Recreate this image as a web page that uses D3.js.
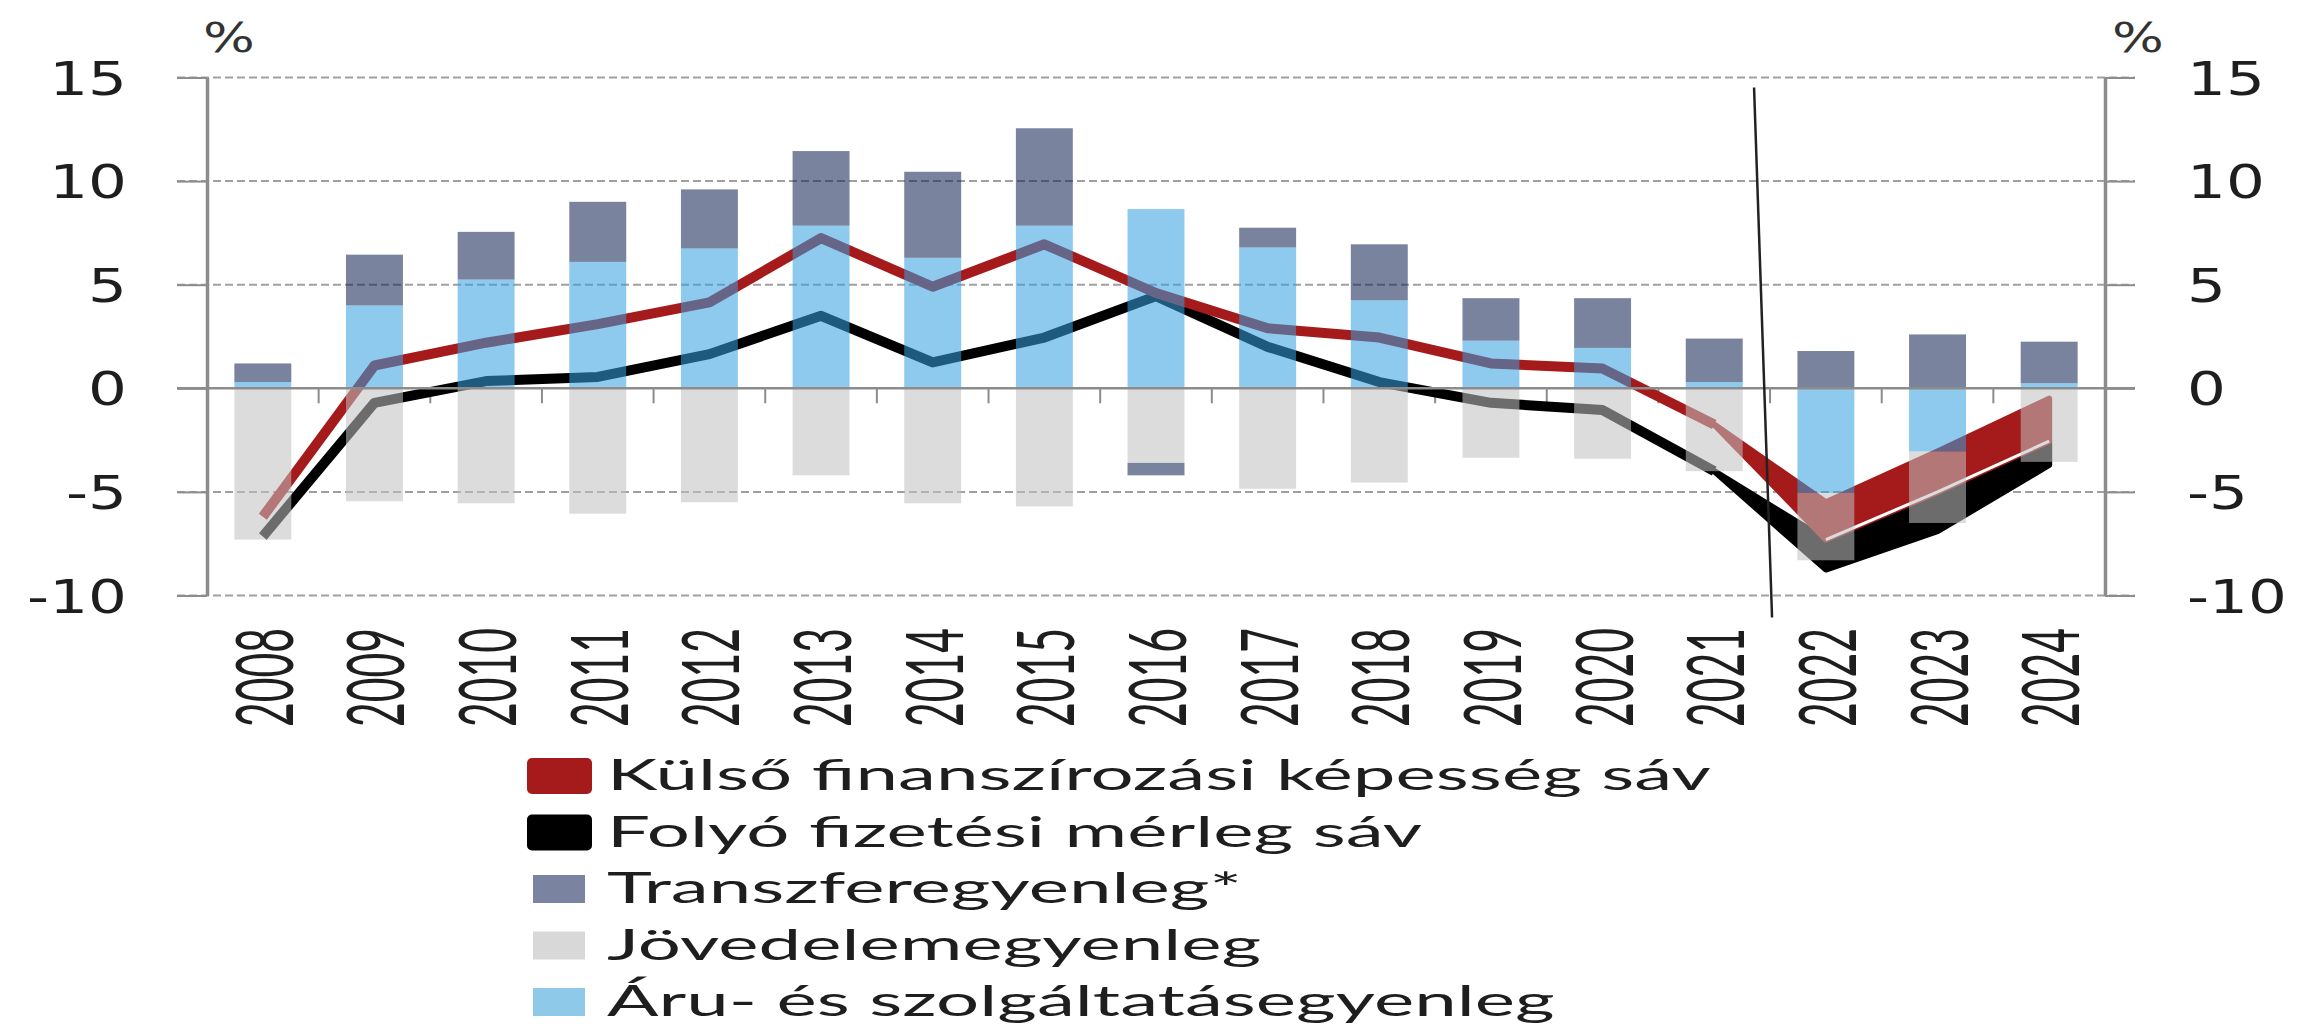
<!DOCTYPE html>
<html>
<head>
<meta charset="utf-8">
<script src="https://cdn.jsdelivr.net/npm/d3@7"></script>
<style>
  body { margin: 0; background: #fff; }
  #chart-area { width: 2297px; height: 1024px; }
</style>
</head>
<body>
<div id="chart-area"></div>
<script>
// ---- data (% of GDP) ----
const years = [2008, 2009, 2010, 2011, 2012, 2013, 2014, 2015, 2016, 2017, 2018, 2019, 2020, 2021, 2022, 2023, 2024];
const goodsServices = [0.3, 4.0, 5.25, 6.1, 6.75, 7.85, 6.3, 7.85, 8.65, 6.8, 4.25, 2.3, 1.95, 0.3, -5.05, -3.05, 0.25];
const incomeBalance = [-7.3, -5.45, -5.55, -6.05, -5.5, -4.2, -5.55, -5.7, -3.6, -4.85, -4.55, -3.35, -3.4, -4.0, -3.25, -3.45, -3.55];
const transferBalance = [0.9, 2.45, 2.3, 2.9, 2.85, 3.6, 4.15, 4.7, -0.6, 0.95, 2.7, 2.05, 2.4, 2.1, 1.8, 2.6, 2.0];

const lineYears = [2008, 2009, 2010, 2011, 2012, 2013, 2014, 2015, 2016, 2017, 2018, 2019, 2020, 2021];
const financingCapacity = [-6.2, 1.1, 2.2, 3.1, 4.15, 7.25, 4.9, 6.95, 4.6, 2.9, 2.45, 1.2, 0.95, -1.75];
const currentAccount = [-7.15, -0.7, 0.35, 0.55, 1.65, 3.5, 1.25, 2.45, 4.45, 2.0, 0.3, -0.7, -1.05, -4.0];

const bandYears = [2021, 2022, 2023, 2024];
const financingBandUpper = [-1.75, -5.5, -3.05, -0.5];
const financingBandLower = [-1.75, -7.3, -5.0, -2.55];
const currentBandUpper = [-4.0, -7.3, -5.0, -2.55];
const currentBandLower = [-4.0, -8.75, -6.9, -3.7];

const yTicks = [-10, -5, 0, 5, 10, 15];
const forecastStart = 2022;

const legendLabels = [
  "Külső finanszírozási képesség sáv",
  "Folyó fizetési mérleg sáv",
  "Transzferegyenleg*",
  "Jövedelemegyenleg",
  "Áru- és szolgáltatásegyenleg"
];

/* * * * * * * * * * * * * *
 *       BalanceChart       *
 * * * * * * * * * * * * * */

class BalanceChart {
  constructor(parentElement) {
    this.parentElement = parentElement;
    this.initVis();
  }

  initVis() {
    let vis = this;

    vis.margin = { top: 77.5, right: 192, bottom: 428.5, left: 207 };
    vis.width = 2297 - vis.margin.left - vis.margin.right;
    vis.height = 1024 - vis.margin.top - vis.margin.bottom;

    vis.root = d3.select("#" + vis.parentElement)
      .append("svg")
      .attr("width", 2297)
      .attr("height", 1024);

    vis.svg = vis.root.append("g")
      .attr("transform", `translate(${vis.margin.left}, ${vis.margin.top})`);

    // scales
    vis.x = d3.scaleBand().domain(years).range([0, vis.width]).paddingInner(0.49).paddingOuter(0.245);
    vis.y = d3.scaleLinear().domain([-10, 15]).range([vis.height, 0]);

    vis.colors = {
      red: "#a51a1a",
      black: "#000000",
      transfer: "#122252",
      income: "#c1c1c1",
      goods: "#36a1df"
    };
    vis.barOpacity = 0.56;

    vis.wrangleData();
  }

  wrangleData() {
    let vis = this;

    vis.rows = years.map((yr, i) => ({
      year: yr,
      goods: goodsServices[i],
      income: incomeBalance[i],
      transfer: transferBalance[i]
    }));

    vis.stacked = d3.stack()
      .keys(["goods", "income", "transfer"])
      .offset(d3.stackOffsetDiverging)(vis.rows);

    vis.redLine = lineYears.map((yr, i) => ({ year: yr, value: financingCapacity[i] }));
    vis.blackLine = lineYears.map((yr, i) => ({ year: yr, value: currentAccount[i] }));
    vis.redBand = bandYears.map((yr, i) => ({ year: yr, hi: financingBandUpper[i], lo: financingBandLower[i] }));
    vis.blackBand = bandYears.map((yr, i) => ({ year: yr, hi: currentBandUpper[i], lo: currentBandLower[i] }));

    vis.updateVis();
  }

  updateVis() {
    let vis = this;
    let cx = (yr) => vis.x(yr) + vis.x.bandwidth() / 2;

    // gridlines (dashed, zero line drawn later)
    vis.svg.append("g")
      .attr("class", "grid")
      .selectAll("line")
      .data(yTicks.filter((t) => t !== 0))
      .enter()
      .append("line")
      .attr("x1", -30)
      .attr("x2", vis.width + 30)
      .attr("y1", (d) => vis.y(d))
      .attr("y2", (d) => vis.y(d))
      .attr("stroke", "#a0a0a0")
      .attr("stroke-width", 2)
      .attr("stroke-dasharray", "8,4");

    // x ticks at category boundaries
    vis.svg.append("g")
      .selectAll("line")
      .data(years.slice(1))
      .enter()
      .append("line")
      .attr("x1", (d) => vis.x(d) - (vis.x.step() - vis.x.bandwidth()) / 2)
      .attr("x2", (d) => vis.x(d) - (vis.x.step() - vis.x.bandwidth()) / 2)
      .attr("y1", vis.y(0))
      .attr("y2", vis.y(0) + 15)
      .attr("stroke", "#8c8c8c")
      .attr("stroke-width", 2);

    // lines (historical)
    let line = d3.line().x((d) => cx(d.year)).y((d) => vis.y(d.value));

    vis.svg.append("path")
      .datum(vis.blackLine)
      .attr("d", line)
      .attr("fill", "none")
      .attr("stroke", vis.colors.black)
      .attr("stroke-width", 10)
      .attr("stroke-linejoin", "round");

    vis.svg.append("path")
      .datum(vis.redLine)
      .attr("d", line)
      .attr("fill", "none")
      .attr("stroke", vis.colors.red)
      .attr("stroke-width", 10)
      .attr("stroke-linejoin", "round");

    // forecast bands
    let band = d3.area().x((d) => cx(d.year)).y0((d) => vis.y(d.lo)).y1((d) => vis.y(d.hi));

    vis.svg.append("path")
      .datum(vis.blackBand)
      .attr("d", band)
      .attr("fill", vis.colors.black)
      .attr("stroke", vis.colors.black)
      .attr("stroke-width", 6)
      .attr("stroke-linejoin", "round");

    vis.svg.append("path")
      .datum(vis.redBand)
      .attr("d", band)
      .attr("fill", vis.colors.red)
      .attr("stroke", vis.colors.red)
      .attr("stroke-width", 6)
      .attr("stroke-linejoin", "round");

    // thin white separation between the two bands
    vis.svg.append("path")
      .datum(vis.redBand.filter((d) => d.year >= forecastStart))
      .attr("d", d3.line().x((d) => cx(d.year)).y((d) => vis.y(d.lo)))
      .attr("fill", "none")
      .attr("stroke", "#ffffff")
      .attr("stroke-width", 3);

    // stacked bars (semi transparent, drawn over the lines)
    vis.svg.append("g")
      .attr("class", "bars")
      .selectAll("g")
      .data(vis.stacked)
      .enter()
      .append("g")
      .attr("fill", (d) => vis.colors[d.key])
      .attr("fill-opacity", vis.barOpacity)
      .selectAll("rect")
      .data((d) => d)
      .enter()
      .append("rect")
      .attr("x", (d) => vis.x(d.data.year))
      .attr("width", vis.x.bandwidth())
      .attr("y", (d) => vis.y(Math.max(d[0], d[1])))
      .attr("height", (d) => Math.abs(vis.y(d[0]) - vis.y(d[1])));

    // zero line
    vis.svg.append("line")
      .attr("x1", -30)
      .attr("x2", vis.width + 30)
      .attr("y1", vis.y(0))
      .attr("y2", vis.y(0))
      .attr("stroke", "#8c8c8c")
      .attr("stroke-width", 2.5);

    // y axes, both sides (plain hyphen for negatives, as in the source)
    let fmt = (d) => String(d);
    let yLeft = d3.axisLeft(vis.y).tickValues(yTicks).tickSize(30).tickSizeOuter(0).tickFormat(fmt);
    let yRight = d3.axisRight(vis.y).tickValues(yTicks).tickSize(30).tickSizeOuter(0).tickFormat(fmt);

    let leftG = vis.svg.append("g").attr("class", "y-axis").call(yLeft);
    let rightG = vis.svg.append("g").attr("class", "y-axis")
      .attr("transform", `translate(${vis.width}, 0)`)
      .call(yRight);

    [leftG, rightG].forEach((g) => {
      g.select(".domain").attr("stroke", "#8c8c8c").attr("stroke-width", 3.5);
      g.selectAll(".tick line").attr("stroke", "#8c8c8c").attr("stroke-width", 2);
      g.selectAll(".tick text")
        .attr("font-family", "DejaVu Sans, Verdana, sans-serif")
        .attr("font-size", 46)
        .attr("fill", "#1e1e1e")
        .attr("dy", "0.36em");
    });
    leftG.selectAll(".tick text")
      .attr("x", 0)
      .attr("text-anchor", "end")
      .attr("transform", "translate(-80, 0) scale(1.33, 1)");
    rightG.selectAll(".tick text")
      .attr("x", 0)
      .attr("text-anchor", "start")
      .attr("transform", "translate(82, 0) scale(1.33, 1)");

    // unit labels
    vis.root.append("text")
      .attr("transform", "translate(203, 52) scale(1.33, 1)")
      .attr("font-family", "DejaVu Sans, Verdana, sans-serif")
      .attr("font-size", 41)
      .attr("fill", "#333")
      .text("%");
    vis.root.append("text")
      .attr("transform", `translate(${vis.margin.left + vis.width + 7}, 52) scale(1.33, 1)`)
      .attr("font-family", "DejaVu Sans, Verdana, sans-serif")
      .attr("font-size", 41)
      .attr("fill", "#333")
      .text("%");

    // year labels (rotated)
    vis.svg.append("g")
      .attr("class", "x-labels")
      .selectAll("text")
      .data(years)
      .enter()
      .append("text")
      .attr("transform", (d) => `translate(${cx(d) + 30}, ${628 - vis.margin.top}) rotate(-90)`)
      .attr("text-anchor", "end")
      .attr("font-family", "Lato, sans-serif")
      .attr("font-size", 79)
      .attr("fill", "#1e1e1e")
      .attr("textLength", 99)
      .attr("lengthAdjust", "spacingAndGlyphs")
      .text((d) => d);

    // forecast separator
    let sep = vis.x(forecastStart) - (vis.x.step() - vis.x.bandwidth()) / 2;
    vis.svg.append("line")
      .attr("x1", sep - 16)
      .attr("x2", sep + 2)
      .attr("y1", vis.y(15) + 10)
      .attr("y2", vis.y(-10) + 22)
      .attr("stroke", "#222")
      .attr("stroke-width", 2.5);

    // legend
    let legendColors = [vis.colors.red, vis.colors.black, "#7a84a0", "#d8d8d8", "#8ec9ea"];
    let legend = vis.root.append("g").attr("class", "legend");
    let rowGap = 56.5;

    let items = legend.selectAll("g")
      .data(legendLabels)
      .enter()
      .append("g")
      .attr("transform", (d, i) => `translate(0, ${790 + i * rowGap})`);

    items.append("rect")
      .attr("x", (d, i) => (i < 2 ? 527 : 533))
      .attr("y", (d, i) => (i < 2 ? -32 : -28))
      .attr("width", (d, i) => (i < 2 ? 65 : 52))
      .attr("height", (d, i) => (i < 2 ? 36 : 28))
      .attr("rx", (d, i) => (i < 2 ? 5 : 0))
      .attr("fill", (d, i) => legendColors[i]);

    let texts = items.append("text")
      .attr("font-family", "Lato, sans-serif")
      .attr("font-size", 42)
      .attr("fill", "#1e1e1e")
      .text((d) => d);

    // the source picture is stretched horizontally: apply one common stretch
    let natural = texts.nodes()[0].getComputedTextLength();
    let stretch = 1104 / natural;
    texts.attr("transform", `translate(607, 0) scale(${stretch}, 1)`);
  }
}

let balanceChart = new BalanceChart("chart-area");
</script>
</body>
</html>
